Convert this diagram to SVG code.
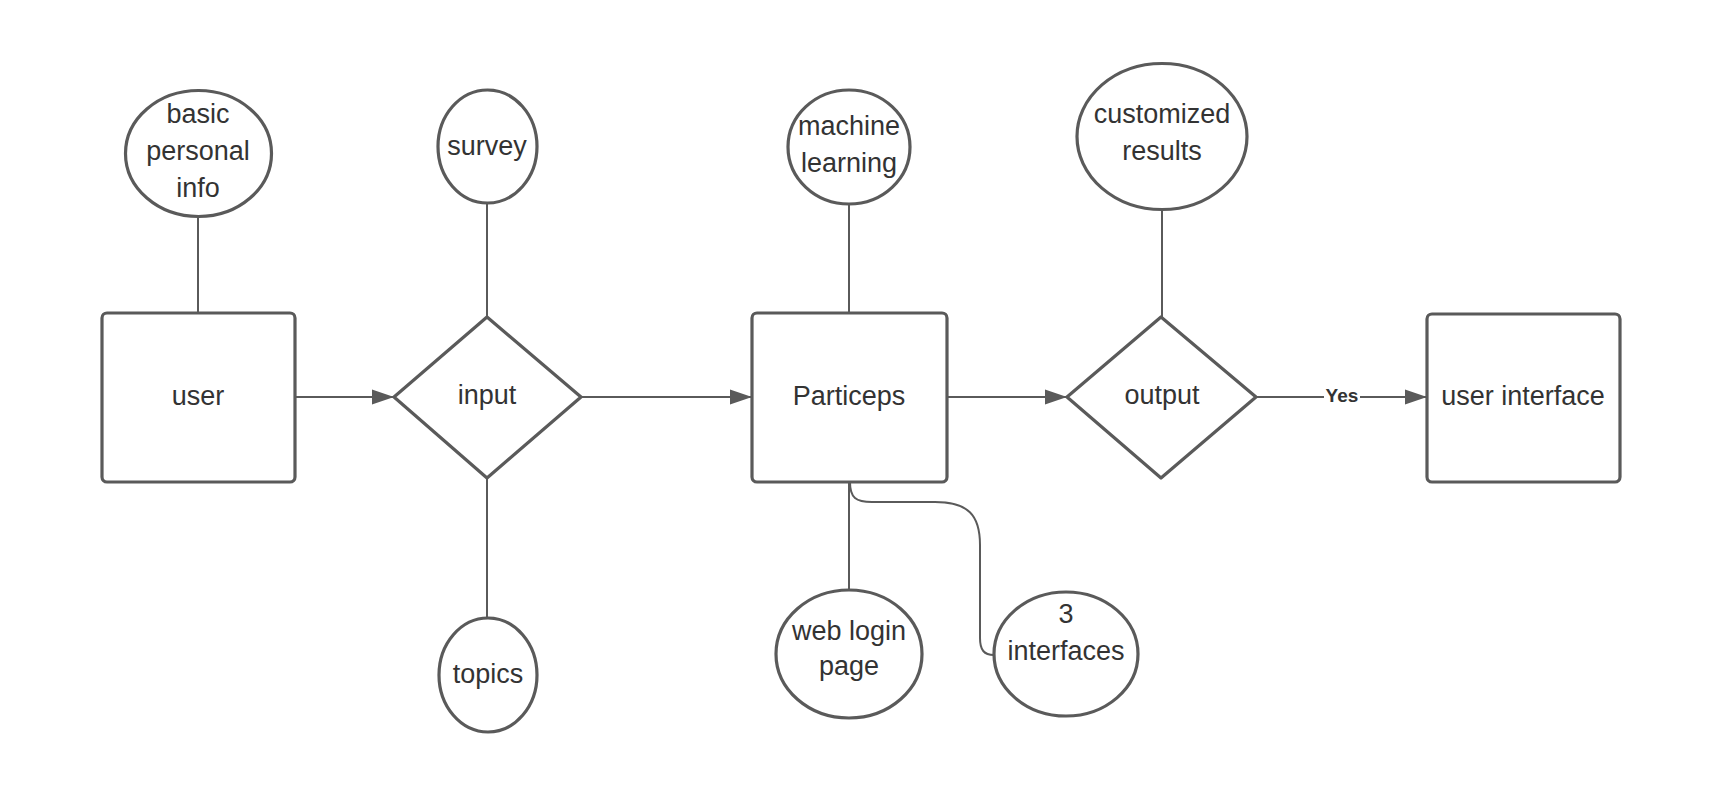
<svg xmlns="http://www.w3.org/2000/svg" width="1722" height="795" viewBox="0 0 1722 795">
<style>
  .shape { fill: #ffffff; stroke: #5a5a5a; stroke-width: 3.2; stroke-linejoin: round; }
  .conn { fill: none; stroke: #5a5a5a; stroke-width: 2; }
  .lbl { font-family: "Liberation Sans", Arial, sans-serif; font-size: 27px; fill: #333333; text-anchor: middle; }
  .yes { font-family: "Liberation Sans", Arial, sans-serif; font-size: 19px; font-weight: bold; fill: #333333; text-anchor: middle; }
</style>
<defs>
  <marker id="arrow" markerWidth="22" markerHeight="16" refX="22" refY="8" orient="auto" markerUnits="userSpaceOnUse">
    <path d="M0,0.5 L22,8 L0,15.5 z" fill="#5a5a5a"/>
  </marker>
</defs>
<rect width="1722" height="795" fill="#ffffff"/>

<g id="connectors">
  <line class="conn" x1="198" y1="217" x2="198" y2="313"/>
  <line class="conn" x1="487" y1="203" x2="487" y2="317"/>
  <line class="conn" x1="487" y1="478" x2="487" y2="618"/>
  <line class="conn" x1="849" y1="204" x2="849" y2="313"/>
  <line class="conn" x1="1162" y1="210" x2="1162" y2="317"/>
  <line class="conn" x1="849" y1="482" x2="849" y2="590"/>
  <path class="conn" d="M850,482 C850,498 856,502 872,502 L935,502 C968,502 980,515 980,545 L980,638 C980,650 984,655 994,655"/>
  <line class="conn" x1="295" y1="397" x2="394" y2="397" marker-end="url(#arrow)"/>
  <line class="conn" x1="582" y1="397" x2="752" y2="397" marker-end="url(#arrow)"/>
  <line class="conn" x1="947" y1="397" x2="1067" y2="397" marker-end="url(#arrow)"/>
  <line class="conn" x1="1256" y1="397" x2="1427" y2="397" marker-end="url(#arrow)"/>
  <rect x="1324" y="386" width="36" height="20" fill="#ffffff"/>
  <text class="yes" x="1342" y="402">Yes</text>
</g>

<g id="node-basic-info">
  <ellipse class="shape" cx="198.5" cy="153.5" rx="73" ry="63"/>
  <text class="lbl" x="198" y="123">basic</text>
  <text class="lbl" x="198" y="160">personal</text>
  <text class="lbl" x="198" y="197">info</text>
</g>
<g id="node-survey">
  <ellipse class="shape" cx="487.5" cy="146.5" rx="49.5" ry="56.5"/>
  <text class="lbl" x="487" y="155">survey</text>
</g>
<g id="node-machine-learning">
  <ellipse class="shape" cx="849" cy="147" rx="61" ry="57"/>
  <text class="lbl" x="849" y="135">machine</text>
  <text class="lbl" x="849" y="172">learning</text>
</g>
<g id="node-customized-results">
  <ellipse class="shape" cx="1162" cy="136.5" rx="85" ry="73"/>
  <text class="lbl" x="1162" y="123">customized</text>
  <text class="lbl" x="1162" y="160">results</text>
</g>
<g id="node-user">
  <rect class="shape" x="102" y="313" width="193" height="169" rx="5"/>
  <text class="lbl" x="198" y="405">user</text>
</g>
<g id="node-input">
  <polygon class="shape" points="487,317 581,397 487,478 394,397"/>
  <text class="lbl" x="487" y="404">input</text>
</g>
<g id="node-particeps">
  <rect class="shape" x="752" y="313" width="195" height="169" rx="5"/>
  <text class="lbl" x="849" y="405">Particeps</text>
</g>
<g id="node-output">
  <polygon class="shape" points="1161,317 1256,397 1161,478 1067,397"/>
  <text class="lbl" x="1162" y="404">output</text>
</g>
<g id="node-user-interface">
  <rect class="shape" x="1427" y="314" width="193" height="168" rx="5"/>
  <text class="lbl" x="1523" y="405">user interface</text>
</g>
<g id="node-topics">
  <ellipse class="shape" cx="488" cy="675" rx="49" ry="57"/>
  <text class="lbl" x="488" y="683">topics</text>
</g>
<g id="node-web-login">
  <ellipse class="shape" cx="849" cy="654" rx="73" ry="64"/>
  <text class="lbl" x="849" y="640">web login</text>
  <text class="lbl" x="849" y="675">page</text>
</g>
<g id="node-3-interfaces">
  <ellipse class="shape" cx="1066" cy="654" rx="72" ry="62"/>
  <text class="lbl" x="1066" y="623">3</text>
  <text class="lbl" x="1066" y="660">interfaces</text>
</g>
</svg>
